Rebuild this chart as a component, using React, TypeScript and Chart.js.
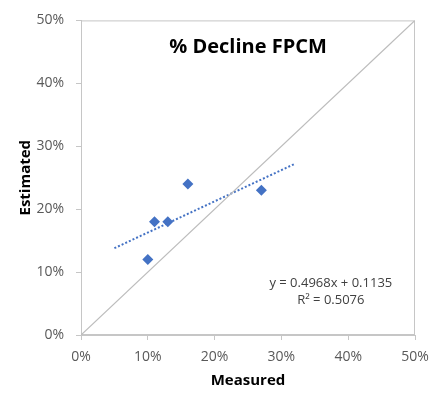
import React, { useEffect, useRef } from "react";
import { Chart, registerables } from "chart.js";
Chart.register(...registerables);

const measured = [0.10, 0.11, 0.13, 0.16, 0.27];
const estimated = [0.12, 0.18, 0.18, 0.24, 0.23];
const trendX = [0.05, 0.32];
const trendY = [0.138, 0.272];
const refX = [0, 0.5];
const refY = [0, 0.5];
const axisTicks = [0, 0.1, 0.2, 0.3, 0.4, 0.5];
const titleText = "% Decline FPCM";
const eqLines = ["y = 0.4968x + 0.1135", "R² = 0.5076"];
const eqPos = { x: 0.374, y: [0.082, 0.055] };

const FONT = "'Open Sans', sans-serif";

export default function App() {
  const ref = useRef<HTMLCanvasElement | null>(null);
  useEffect(() => {
    document.body.style.margin = "0";
    const canvas = ref.current!;
    const overlay = {
      id: "overlay",
      beforeDatasetsDraw(chart: any) {
        const { ctx, chartArea: a } = chart;
        ctx.save();
        ctx.strokeStyle = "#c6c6c6";
        ctx.lineWidth = 1;
        ctx.strokeRect(a.left + 0.5, a.top + 0.5, a.right - a.left - 1, a.bottom - a.top - 1);
        ctx.restore();
      },
      afterDraw(chart: any) {
        const { ctx, chartArea: a, scales } = chart;
        ctx.save();
        ctx.fillStyle = "#000000";
        ctx.font = `bold 20px ${FONT}`;
        ctx.textAlign = "center";
        ctx.textBaseline = "middle";
        ctx.fillText(titleText, (a.left + a.right) / 2, 47);
        ctx.font = `13px ${FONT}`;
        ctx.fillStyle = "#404040";
        const xp = scales.x.getPixelForValue(eqPos.x);
        eqLines.forEach((t, i) => {
          ctx.fillText(t, xp, scales.y.getPixelForValue(eqPos.y[i]));
        });
        ctx.restore();
      },
    };
    const tickCallback = (v: any) => Math.round(Number(v) * 100) + "%";
    const chart = new Chart(canvas, {
      type: "scatter",
      data: {
        datasets: [
          {
            label: "1:1",
            data: refX.map((x, i) => ({ x, y: refY[i] })),
            showLine: true,
            borderColor: "#bcbcbc",
            borderWidth: 1.2,
            pointRadius: 0,
          },
          {
            label: "trend",
            data: trendX.map((x, i) => ({ x, y: trendY[i] })),
            showLine: true,
            borderColor: "#4472c4",
            borderWidth: 2,
            borderDash: [2, 2],
            pointRadius: 0,
          },
          {
            label: "data",
            data: measured.map((x, i) => ({ x, y: estimated[i] })),
            pointStyle: "rectRot",
            pointRadius: 5.5,
            pointBackgroundColor: "#4472c4",
            pointBorderColor: "#4472c4",
            pointBorderWidth: 0,
          },
        ],
      },
      options: {
        animation: false,
        responsive: false,
        maintainAspectRatio: false,
        layout: { padding: { top: 18, right: 28, left: 0, bottom: 0 } },
        plugins: { legend: { display: false }, tooltip: { enabled: false } },
        scales: {
          x: {
            type: "linear",
            min: 0,
            max: 0.5,
            afterBuildTicks: (s: any) => { s.ticks = axisTicks.map((v) => ({ value: v })); },
            afterFit: (s: any) => { s.height = 62; },
            grid: { drawOnChartArea: false, drawTicks: true, tickLength: 5, color: "#c6c6c6" },
            border: { display: true, color: "#c6c6c6" },
            ticks: { callback: tickCallback, padding: 9, color: "#595959", font: { family: FONT, size: 14 }, maxRotation: 0 },
            title: { display: true, text: "Measured", color: "#000000", font: { family: FONT, size: 15, weight: "bold" }, padding: { top: 0, bottom: 7 } },
          },
          y: {
            type: "linear",
            min: 0,
            max: 0.5,
            afterBuildTicks: (s: any) => { s.ticks = axisTicks.map((v) => ({ value: v })); },
            afterFit: (s: any) => { s.width = 81; },
            grid: { drawOnChartArea: false, drawTicks: true, tickLength: 5, color: "#c6c6c6" },
            border: { display: true, color: "#c6c6c6" },
            ticks: { callback: tickCallback, padding: 12, color: "#595959", font: { family: FONT, size: 14 } },
            title: { display: true, text: "Estimated", color: "#000000", font: { family: FONT, size: 15, weight: "bold" }, padding: { top: 17, bottom: 0 } },
          },
        },
      },
      plugins: [overlay],
    } as any);
    return () => chart.destroy();
  }, []);
  return (
    <div style={{ width: 443, height: 397, background: "#fff" }}>
      <canvas ref={ref} width={443} height={397} style={{ display: "block" }} />
    </div>
  );
}
